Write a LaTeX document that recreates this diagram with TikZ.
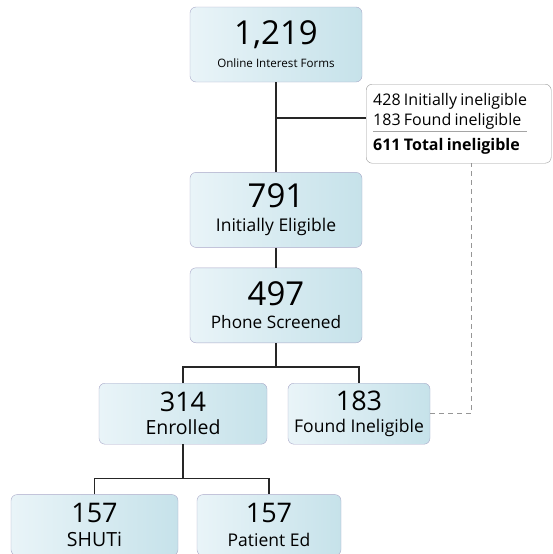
\documentclass[tikz,border=0pt]{standalone}
\usepackage{fontspec}
\setmainfont{Open Sans}
\usepackage{colortbl}
\usetikzlibrary{positioning, calc}
\definecolor{boxleft}{RGB}{233,244,248}
\definecolor{boxright}{RGB}{198,226,234}
\definecolor{boxline}{RGB}{168,168,200}
\definecolor{infoline}{RGB}{165,165,165}
\definecolor{dashline}{RGB}{150,150,150}
\newcommand{\bignum}[1]{{\fontsize{33}{30}\selectfont #1}}
\newcommand{\midnum}[1]{{\fontsize{27}{26}\selectfont #1}}

\begin{document}
\begin{tikzpicture}[x=1pt,y=1pt,node distance=20pt]
        \tikzstyle{stage}=[rectangle,rounded corners=6pt,draw=boxline,left color=boxleft,right color=boxright,align=center,inner sep=0pt,minimum width=172pt,minimum height=75pt,font=\fontsize{10}{12}\selectfont]
        \tikzstyle{branch}=[stage,minimum height=61pt]
        \tikzstyle{link}=[line width=1.5pt,draw=black!85]
        \useasboundingbox (0,0) rectangle (552,-554);
        \node[stage] (forms) at (276,-44.5) {\bignum{1,219}\\[9pt]{\fontsize{11.6}{12}\selectfont Online Interest Forms}};
        \node[stage,below=90pt of forms] (eligible) {\bignum{791}\\[9pt]{\fontsize{17.5}{16}\selectfont Initially Eligible}};
        \node[stage,below=of eligible] (screened) {\bignum{497}\\[9pt]{\fontsize{17.2}{16}\selectfont Phone Screened}};
        \node[branch,minimum width=168pt,below=40pt of screened,xshift=-93pt] (enrolled) {\midnum{314}\\[7pt]{\fontsize{19.5}{17}\selectfont Enrolled}};
        \node[branch,minimum width=142pt,below=40pt of screened,xshift=83pt] (found) {\midnum{183}\\[7pt]{\fontsize{17.5}{16}\selectfont Found Ineligible}};
        \node[branch,minimum width=167pt,below=50pt of enrolled,xshift=-88.5pt] (shuti) {\midnum{157}\\[9pt]{\fontsize{19.5}{17}\selectfont SHUTi}};
        \node[branch,minimum width=144pt,below=50pt of enrolled,xshift=86pt] (patient) {\midnum{157}\\[9pt]{\fontsize{17.5}{17}\selectfont Patient Ed}};
        \node[rectangle,rounded corners=6pt,draw=black!40,fill=white,anchor=north west,text width=171pt,align=left,inner xsep=7pt,inner ysep=0pt,minimum height=79pt] (info) at (366,-84) {\fontsize{16}{20}\selectfont\arrayrulecolor{infoline}\setlength{\arrayrulewidth}{0.8pt}\begin{tabular}{@{}l@{}}428 Initially ineligible\\183 Found ineligible\\\hline\rule{0pt}{18pt}\textbf{611 Total ineligible}\end{tabular}};
        % connectors
        \coordinate (split) at ($(forms.south)!0.4!(eligible.north)$);
        \draw[link] (forms) -- (eligible);
        \draw[link] (split) -- (split -| info.west);
        \draw[link] (eligible) -- (screened);
        \coordinate (fork) at ($(screened.south)+(0,-24)$);
        \draw[link] (screened.south) -- (fork);
        \draw[link] (enrolled.north) |- (fork) -| (found.north);
        \coordinate (fork2) at ($(enrolled.south)+(0,-34)$);
        \draw[link] (enrolled.south) -- (fork2);
        \draw[link] (shuti.north) |- (fork2) -| (patient.north);
        \coordinate (drop) at ($(info.south)+(12.5,0)$);
        \draw[dashline,line width=1pt,dash pattern=on 5pt off 4pt] (found.east) -| (drop);
    \end{tikzpicture}
\end{document}
